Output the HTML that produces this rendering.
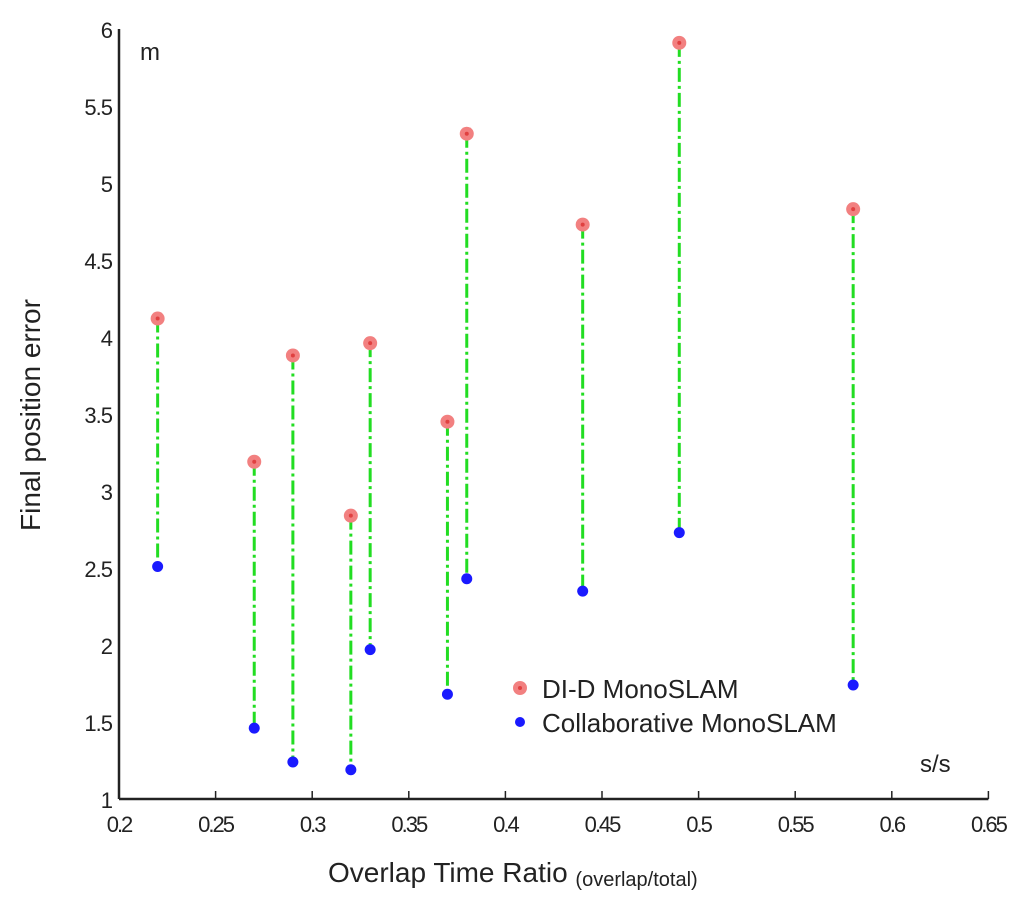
<!DOCTYPE html>
<html><head><meta charset="utf-8"><style>
body{margin:0;background:#fff;}
svg text{font-family:"Liberation Sans",sans-serif;fill:#222;}
</style></head><body>
<svg id="chart" width="1024" height="918" xmlns="http://www.w3.org/2000/svg">
<g id="axes"></g>
<g id="marks"></g>
<text x="140" y="60" font-size="24">m</text>
<text x="920" y="772" font-size="24">s/s</text>
<text transform="translate(40,415) rotate(-90)" text-anchor="middle" font-size="28">Final position error</text>
<text x="328" y="882" font-size="28">Overlap Time Ratio <tspan font-size="20" dy="4">(overlap/total)</tspan></text>
<g>
<circle cx="520" cy="688" r="7" fill="#f28080"/>
<circle cx="520" cy="688" r="2" fill="#e04040"/>
<text x="542" y="698" font-size="26">DI-D MonoSLAM</text>
<circle cx="520" cy="722" r="5" fill="#1a1aff"/>
<text x="542" y="732" font-size="26">Collaborative MonoSLAM</text>
</g>
</svg>
<script>
const xs=[0.22,0.27,0.29,0.32,0.33,0.37,0.38,0.44,0.49,0.58];
const didErr=[4.12,3.19,3.88,2.84,3.96,3.45,5.32,4.73,5.91,4.83];
const colErr=[2.51,1.46,1.24,1.19,1.97,1.68,2.43,2.35,2.73,1.74];
const xTicks=[0.2,0.25,0.3,0.35,0.4,0.45,0.5,0.55,0.6,0.65];
const xTickLabels=["0.2","0.25","0.3","0.35","0.4","0.45","0.5","0.55","0.6","0.65"];
const yTicks=[1,1.5,2,2.5,3,3.5,4,4.5,5,5.5,6];
const yTickLabels=["1","1.5","2","2.5","3","3.5","4","4.5","5","5.5","6"];
const NS="http://www.w3.org/2000/svg";
const X=v=>119+(v-0.2)*1932;
const Y=v=>799-(v-1)*154;
function mk(t,a,p){const e=document.createElementNS(NS,t);for(const k in a)e.setAttribute(k,a[k]);p.appendChild(e);return e;}
const ax=document.getElementById('axes'),mg=document.getElementById('marks');
let l=mk('line',{x1:X(0.2),y1:Y(1),x2:X(0.65),y2:Y(1),stroke:'#222','stroke-width':2.5},ax);


l=mk('line',{x1:X(0.2),y1:Y(1),x2:X(0.2),y2:Y(6),stroke:'#222','stroke-width':2.5},ax);


xTicks.forEach((v,i)=>{
 const t=mk('line',{x1:X(v),y1:Y(1),x2:X(v),y2:Y(1)-8,stroke:'#222','stroke-width':1.5},ax);
 
 
 const tx=mk('text',{x:X(v),y:832,'text-anchor':'middle','font-size':22,'letter-spacing':'-2'},ax);
 tx.textContent=xTickLabels[i];
 
 
});
yTicks.forEach((v,i)=>{
 const tx=mk('text',{x:112,y:Y(v)+9,'text-anchor':'end','font-size':22,'letter-spacing':'-1'},ax);
 tx.textContent=yTickLabels[i];
 
 
});
xs.forEach((v,i)=>{
 const s=mk('line',{x1:X(v),y1:Y(didErr[i]),x2:X(v),y2:Y(colErr[i]),stroke:'#22dd22','stroke-width':3,'stroke-dasharray':'14 4 3 4'},mg);
 
 
 const c=mk('circle',{cx:X(v),cy:Y(didErr[i]),r:7,fill:'#f28080'},mg);
 
 
 const c2=mk('circle',{cx:X(v),cy:Y(didErr[i]),r:2,fill:'#e04040'},mg);
 
 
 const b=mk('circle',{cx:X(v),cy:Y(colErr[i]),r:5.5,fill:'#1a1aff'},mg);
 
 
});
</script>
</body></html>
